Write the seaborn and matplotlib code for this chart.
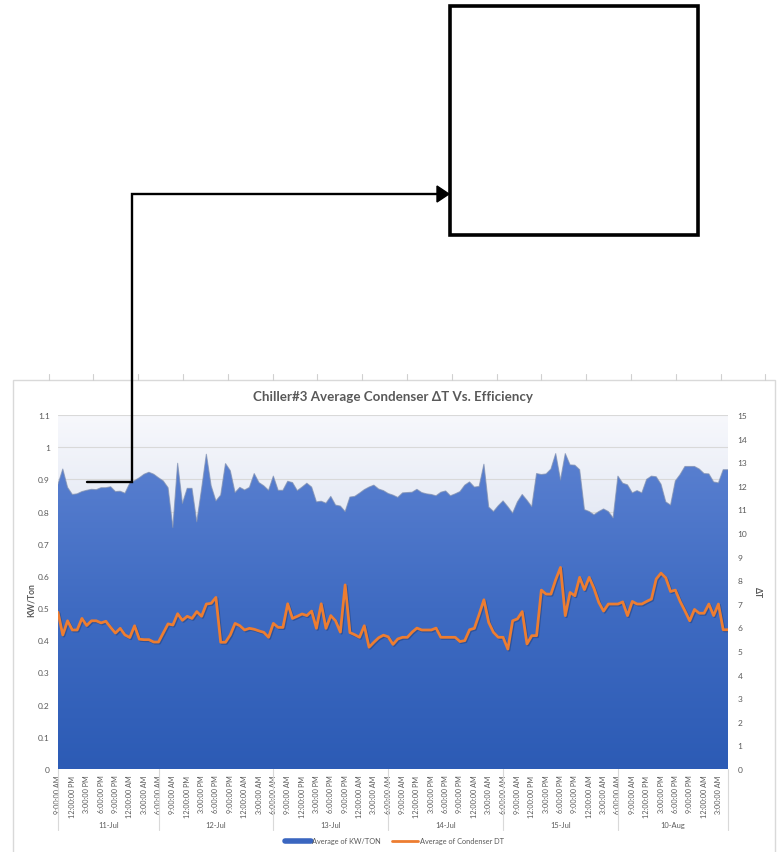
import numpy as np
import pandas as pd
import seaborn as sns
import matplotlib.pyplot as plt
from matplotlib.colors import LinearSegmentedColormap
from matplotlib.lines import Line2D
from matplotlib.patches import Rectangle, Polygon
import matplotlib.patheffects as pe

# ---- data (hourly averages) ----
days = ['11-Jul', '12-Jul', '13-Jul', '14-Jul', '15-Jul', '10-Aug']
day_hours = [list(range(9, 24)) + list(range(0, 6))] + \
            [list(range(6, 24)) + list(range(0, 6))] * 5

kw_ton = [0.885, 0.932, 0.875, 0.853, 0.855, 0.862, 0.866, 0.869, 0.868, 0.874,
          0.874, 0.877, 0.862, 0.863, 0.857, 0.888, 0.896, 0.905, 0.916, 0.922,
          0.916, 0.905, 0.895, 0.874, 0.750, 0.950, 0.825, 0.872, 0.872, 0.768,
          0.870, 0.978, 0.880, 0.833, 0.851, 0.949, 0.927, 0.859, 0.875, 0.867,
          0.875, 0.918, 0.890, 0.880, 0.866, 0.910, 0.866, 0.866, 0.894, 0.890,
          0.865, 0.876, 0.888, 0.876, 0.830, 0.832, 0.826, 0.847, 0.820, 0.817,
          0.800, 0.845, 0.847, 0.857, 0.868, 0.876, 0.882, 0.870, 0.865, 0.856,
          0.851, 0.844, 0.858, 0.859, 0.860, 0.869, 0.859, 0.855, 0.853, 0.849,
          0.860, 0.864, 0.849, 0.855, 0.862, 0.882, 0.892, 0.876, 0.878, 0.947,
          0.814, 0.800, 0.818, 0.833, 0.815, 0.795, 0.830, 0.853, 0.835, 0.815,
          0.918, 0.915, 0.917, 0.932, 0.980, 0.898, 0.980, 0.945, 0.944, 0.930,
          0.806, 0.800, 0.790, 0.800, 0.808, 0.800, 0.780, 0.910, 0.888, 0.883,
          0.858, 0.865, 0.858, 0.900, 0.910, 0.908, 0.885, 0.830, 0.820, 0.895,
          0.915, 0.940, 0.940, 0.940, 0.932, 0.918, 0.917, 0.892, 0.889, 0.930,
          0.930]

cond_dt = [6.64, 5.68, 6.28, 5.89, 5.89, 6.38, 6.08, 6.28, 6.28, 6.19,
           6.26, 6.00, 5.76, 5.96, 5.68, 5.57, 6.07, 5.50, 5.48, 5.48,
           5.38, 5.38, 5.76, 6.15, 6.10, 6.58, 6.30, 6.47, 6.38, 6.67,
           6.47, 6.99, 7.02, 7.27, 5.37, 5.37, 5.68, 6.17, 6.07, 5.89,
           5.96, 5.92, 5.85, 5.79, 5.58, 6.17, 6.00, 6.00, 7.00, 6.38,
           6.47, 6.57, 6.50, 6.69, 5.96, 7.00, 5.96, 6.50, 6.28, 5.80,
           7.80, 5.78, 5.69, 5.58, 6.07, 5.16, 5.37, 5.56, 5.67, 5.60,
           5.28, 5.51, 5.58, 5.58, 5.80, 5.97, 5.89, 5.89, 5.89, 5.97,
           5.58, 5.58, 5.58, 5.58, 5.40, 5.44, 5.90, 5.96, 6.55, 7.17,
           6.21, 5.79, 5.58, 5.58, 5.08, 6.28, 6.36, 6.67, 5.30, 5.65,
           5.65, 7.58, 7.41, 7.41, 8.02, 8.54, 6.50, 7.48, 7.34, 8.12,
           7.60, 8.12, 7.65, 7.06, 6.69, 6.99, 6.99, 6.99, 7.08, 6.50,
           7.10, 6.99, 6.99, 7.10, 7.20, 8.05, 8.30, 8.10, 7.52, 7.58,
           7.10, 6.70, 6.28, 6.76, 6.60, 6.60, 6.99, 6.50, 6.99, 5.90,
           5.90]


def hour_label(h):
    return f"{h % 12 or 12}:00:00 {'AM' if h < 12 else 'PM'}"


rows = [(d, hour_label(h)) for d, hrs in zip(days, day_hours) for h in hrs]
df = pd.DataFrame(rows, columns=['day', 'time'])
df['kw'] = kw_ton
df['dt'] = cond_dt
df['idx'] = np.arange(len(df))

# ---- style ----
sns.set_style('white')
plt.rcParams['font.family'] = ['Lato', 'DejaVu Sans']
gray = '#595959'

W, H = 777, 853
fig = plt.figure(figsize=(W / 100, H / 100), dpi=100)
fig.patch.set_facecolor('white')


def fx(x):
    return x / W


def fy(y):
    return 1 - y / H


# chart frame and sheet column marks
fig.add_artist(Rectangle((fx(13), fy(858)), fx(775) - fx(13), fy(381) - fy(858),
                         transform=fig.transFigure, fill=False, ec='#d9d9d9', lw=1))
for cx in np.arange(48.5, 770, 44.8):
    fig.add_artist(Line2D([fx(cx), fx(cx)], [fy(375), fy(381)], transform=fig.transFigure,
                          color='#d0d0d0', lw=0.8))

ax = fig.add_axes([fx(58), fy(770), fx(728) - fx(58), fy(416) - fy(770)])
n = len(df) - 1

# plot-area background gradient
bg = LinearSegmentedColormap.from_list('bg', ['#b9c6e2', '#f7f8fc'])
ax.imshow(np.linspace(0, 1, 256).reshape(-1, 1), extent=[0, n, 0, 1.1], origin='lower',
          aspect='auto', cmap=bg, zorder=0)

# area with vertical gradient
poly = ax.fill_between(df['idx'], df['kw'], 0, facecolor='none', edgecolor='none', zorder=2)
area_cmap = LinearSegmentedColormap.from_list('area', ['#2c5bb5', '#3f6bc2', '#5b81d1'])
im = ax.imshow(np.linspace(0, 1, 256).reshape(-1, 1), extent=[0, n, 0, 1.0], origin='lower',
               aspect='auto', cmap=area_cmap, zorder=2)
im.set_clip_path(poly.get_paths()[0], transform=ax.transData)
ax.plot(df['idx'], df['kw'], color='#7f8fb0', lw=0.8, alpha=0.7, zorder=2.5)

ax.set_xlim(0, n)
ax.set_ylim(0, 1.1)
ax.set_yticks(np.round(np.arange(0, 1.11, 0.1), 1))
ax.set_yticklabels(['0'] + [f'{v:.1f}' for v in np.arange(0.1, 0.95, 0.1)] + ['1', '1.1'])
ax.yaxis.grid(True, color='#d9d9d9', lw=0.8)
ax.set_axisbelow(True)

ticks = df['idx'][::3]
ax.set_xticks(ticks)
ax.set_xticklabels(df['time'][::3], rotation=90, fontsize=5.2, color=gray)
ax.tick_params(axis='x', length=0, pad=4)
ax.tick_params(axis='y', length=0, pad=6, labelsize=6, labelcolor=gray)
for s in ax.spines.values():
    s.set_visible(False)
ax.set_xlabel('')
ax.set_ylabel('')

# secondary axis: condenser delta T
ax2 = ax.twinx()
sns.lineplot(data=df, x='idx', y='dt', ax=ax2, color='#ED7D31', lw=2.0, zorder=5,
             path_effects=[pe.SimpleLineShadow(offset=(0.8, -0.8), shadow_color='#1f3f7a', alpha=0.5),
                           pe.Normal()])
ax2.set_ylim(0, 15)
ax2.set_yticks(range(0, 16))
ax2.tick_params(axis='y', length=0, pad=7, labelsize=6, labelcolor=gray)
for s in ax2.spines.values():
    s.set_visible(False)
ax2.set_ylabel('')
ax2.set_xlim(0, n)

# multi-level category axis: day groups
xtr = ax.get_xaxis_transform()
starts = df.groupby('day', sort=False)['idx'].min().tolist()
bounds = starts + [n]
for b in bounds:
    ax.plot([b, b], [0, -0.172], transform=xtr, color='#d9d9d9', lw=0.8, clip_on=False)
for d, a, b in zip(days, bounds[:-1], bounds[1:]):
    ax.text((a + b) / 2, -0.158, d, transform=xtr, ha='center', va='center',
            fontsize=5.4, color=gray)

# titles and axis titles
fig.text(fx(393), fy(397), 'Chiller#3 Average Condenser ΔT Vs. Efficiency', ha='center',
         va='center', fontsize=9.6, fontweight='bold', color=gray)
fig.text(fx(31), fy(600), 'KW/Ton', rotation=90, ha='center', va='center',
         fontsize=6.2, fontweight='bold', color=gray)
fig.text(fx(757), fy(593), 'ΔT', rotation=270, ha='center', va='center',
         fontsize=6.2, fontweight='bold', color=gray)

# legend
handles = [Line2D([], [], color='#3a66c0', lw=4), Line2D([], [], color='#ED7D31', lw=2)]
fig.legend(handles, ['Average of KW/TON', 'Average of Condenser DT'], loc='center',
           bbox_to_anchor=(fx(394), fy(842)), ncol=2, frameon=False, fontsize=5.3,
           handlelength=3.6, columnspacing=1.4, handletextpad=0.2, labelcolor=gray)

# call-out box with connector arrow
fig.add_artist(Rectangle((fx(450), fy(236)), fx(698) - fx(450), fy(7) - fy(236),
                         transform=fig.transFigure, fill=False, ec='black', lw=2.6))
fig.add_artist(Line2D([fx(87), fx(132), fx(132), fx(440)], [fy(483), fy(483), fy(195), fy(195)],
                      transform=fig.transFigure, color='black', lw=1.7,
                      solid_joinstyle='miter'))
fig.add_artist(Polygon([[fx(437), fy(187)], [fx(449), fy(195)], [fx(437), fy(203)]],
                       closed=True, transform=fig.transFigure, color='black'))

fig.savefig('out.png', dpi=100)
